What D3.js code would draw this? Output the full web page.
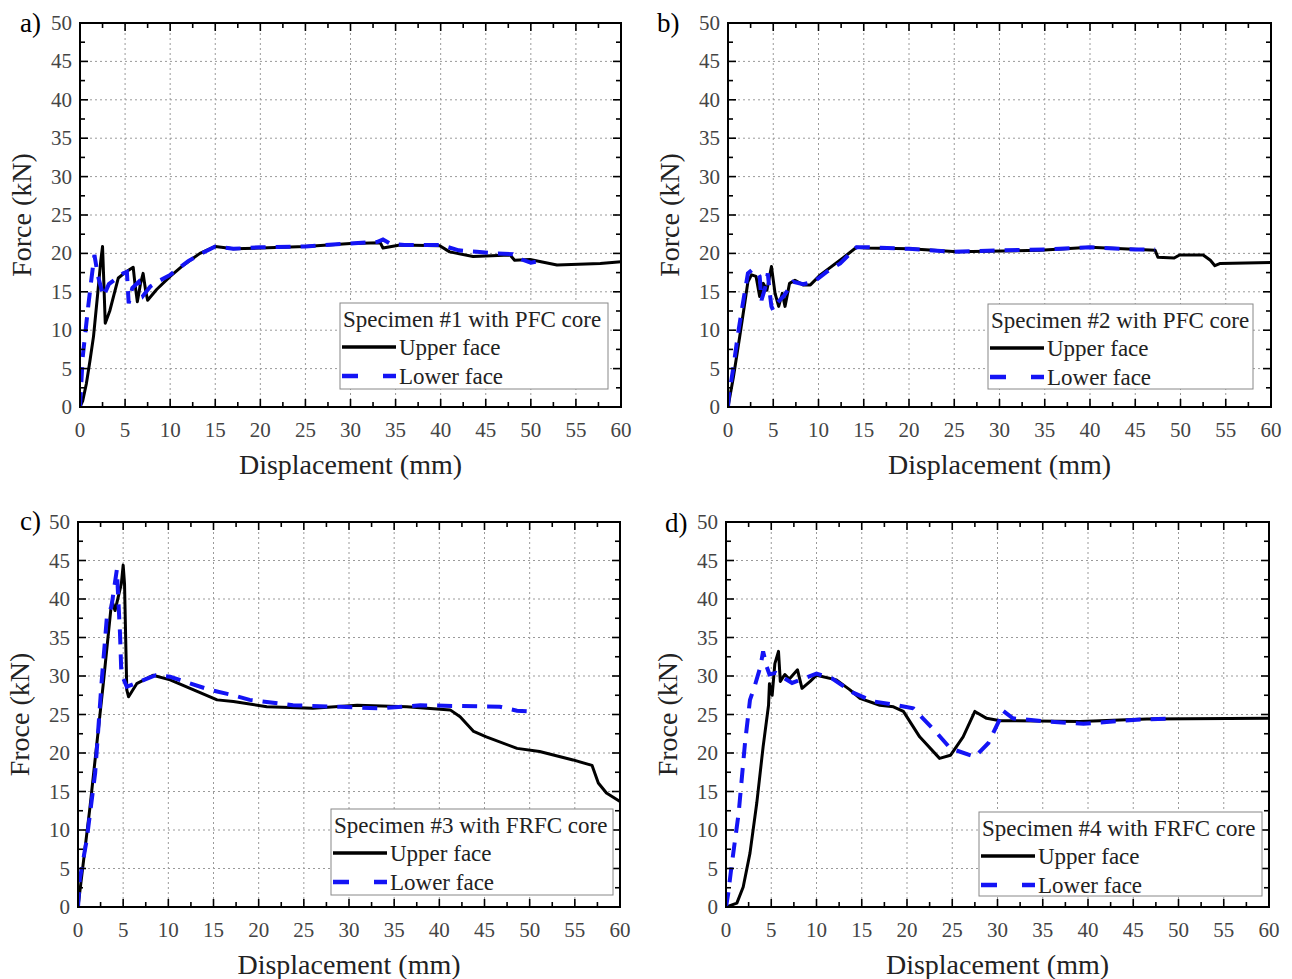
<!DOCTYPE html>
<html>
<head>
<meta charset="utf-8">
<script src="https://cdn.jsdelivr.net/npm/d3@7"></script>
<style>
body{margin:0;background:#fff}
svg{display:block}
text{font-family:"Liberation Serif","Times New Roman",serif}
</style>
</head>
<body>
<svg id="chart" width="1292" height="979"></svg>
<script>
// values: [displacement mm, force kN]
var upperA=[[0,0],[0.3,0.8],[0.7,3],[1.1,6],[1.5,9.2],[2,15.2],[2.3,19],[2.5,20.9],[2.65,16],[2.8,10.9],[3.3,12.5],[4.25,16.8],[5,17.5],[5.9,18.2],[6.1,16],[6.36,13.7],[6.7,16],[7,17.4],[7.3,15],[7.5,13.9],[8.5,15.3],[10,17],[11.5,18.5],[13.3,20],[15,20.9],[17,20.6],[20,20.7],[25,20.9],[30,21.3],[33.3,21.4],[33.6,20.7],[35.5,21.1],[39.9,21],[41,20.2],[43.6,19.6],[47.7,19.8],[48.2,19.1],[49.9,19.2],[52.9,18.5],[57.7,18.7],[60,18.9]]
var lowerA=[[0,0],[0.3,6.5],[0.9,13],[1.3,17],[1.6,19.8],[2,17],[2.6,14.4],[3.2,16],[4.1,16.8],[4.8,17.4],[5.2,17.6],[5.4,13.5],[5.8,15.5],[6.5,16.3],[7,14.5],[7.8,15.7],[8.9,16.5],[10,17.2],[12,19],[13.5,20],[15,20.9],[17,20.6],[20,20.8],[25,20.9],[30,21.3],[33,21.5],[33.6,21.8],[34.5,21.2],[36,21.1],[40,21.1],[42,20.4],[44,20.2],[46,20],[48,19.9],[49,19.2],[50,18.8],[51,19]]

var upperB=[[0,0],[0.6,3.9],[1.3,9.2],[1.9,13.9],[2.2,16.3],[2.6,17.2],[3.1,17],[3.5,14.4],[3.9,16.1],[4.3,15.2],[4.8,18.3],[5.2,14.8],[5.6,13.1],[6,14.8],[6.3,13.1],[6.8,16.1],[7.4,16.5],[8.3,15.9],[9.1,15.9],[10.2,17.2],[12.7,19.4],[14.2,20.8],[15.3,20.7],[20.1,20.6],[25.3,20.2],[34.5,20.4],[40,20.8],[47.2,20.4],[47.5,19.5],[49.3,19.4],[49.9,19.8],[52.5,19.8],[53.3,19.1],[53.8,18.4],[54.4,18.7],[60,18.8]]
var lowerB=[[0,0],[0.1,1.5],[0.6,5.2],[1.1,9.5],[1.7,13.9],[2.2,17.4],[2.7,17.9],[3.2,17.6],[3.5,17],[3.7,13.9],[4.1,15.5],[4.4,17.4],[4.6,15],[4.8,13.1],[5,12.6],[5.4,13.5],[5.7,13.9],[6.2,14.5],[7.2,16.3],[8.3,16],[9.5,16.3],[10.9,17.6],[12.4,18.7],[14.2,20.8],[15.5,20.8],[20,20.6],[25,20.2],[30,20.4],[35,20.5],[40,20.8],[45,20.5],[47.2,20.5]]

var upperC=[[0,0],[1.33,13],[2.8,29],[3.7,39.4],[3.8,39.6],[4.1,38.5],[4.8,42],[5,44.4],[5.15,42],[5.4,28.2],[5.6,27.3],[6.5,29],[8.3,30.1],[10.2,29.5],[12.8,28.2],[15.4,26.9],[17.2,26.7],[20.9,26],[26,25.8],[30.9,26.2],[36.4,26],[41.2,25.6],[42.3,24.7],[43.8,22.8],[45.2,22.1],[48.6,20.6],[51.1,20.2],[54.8,19.1],[56.9,18.4],[57.6,16.1],[58.5,14.8],[60,13.7]]
var lowerC=[[0,0],[0.2,3.6],[0.96,8.7],[1.9,17.4],[2.6,29],[3.2,37.7],[3.7,39],[4.3,43.8],[4.65,35.5],[4.8,30.3],[5.4,28.6],[6.7,29.2],[8.6,30.1],[10.2,29.9],[14.6,28.2],[17.2,27.5],[19,26.9],[23.8,26.2],[29,26],[33.4,25.8],[37.9,26.2],[42.3,26.1],[46.7,26],[48.6,25.5],[50,25.4]]

var upperD=[[0,0],[1.2,0.5],[1.9,2.6],[2.65,7],[3.4,13.5],[4.1,20.8],[4.7,26.2],[4.8,29],[5.1,27.5],[5.4,31.6],[5.8,33.2],[6,29.3],[6.5,30.2],[7,29.6],[7.9,30.8],[8.4,28.4],[9.3,29.3],[10,30.1],[12.2,29.5],[13.7,28.2],[14.8,27.1],[17,26.2],[18.5,26],[19.6,25.4],[21.4,22.1],[23.6,19.3],[24.8,19.7],[26.2,22.1],[27.5,25.4],[28.8,24.5],[30.3,24.2],[39.1,24.1],[46.5,24.4],[60,24.5]]
var lowerD=[[0,0],[0.25,1.8],[0.6,5.2],[1.4,12.2],[2.1,21.3],[2.65,26.9],[3.2,28.8],[3.8,31.2],[4.1,33.2],[4.5,31.2],[4.8,30.2],[5.5,30.4],[7.3,29.1],[10,30.3],[11.7,29.7],[14.1,27.8],[16.3,26.7],[18.9,26.2],[20.7,25.8],[23.3,22.6],[24.8,20.6],[27.5,19.5],[29,21.3],[30.3,24.5],[30.6,25.5],[31.7,24.5],[35.4,24.1],[39.5,23.8],[45,24.3],[49.5,24.5]]

var xTicks=[0,5,10,15,20,25,30,35,40,45,50,55,60]
var yTicks=[0,5,10,15,20,25,30,35,40,45,50]
var panelLabels=['a)','b)','c)','d)']
var legendTitles=['Specimen #1 with PFC core','Specimen #2 with PFC core','Specimen #3 with FRFC core','Specimen #4 with FRFC core']
var yTitles=['Force (kN)','Force (kN)','Froce (kN)','Froce (kN)']
var seriesNames=['Upper face','Lower face']
var uppers=[upperA,upperB,upperC,upperD]
var lowers=[lowerA,lowerB,lowerC,lowerD]

// layout of the four panels
var frames=[
    {x0:80,x1:621,y0:23,y1:407,lab:[20,32],leg:[340,303,268,86]},
    {x0:728,x1:1271,y0:23,y1:407,lab:[657,32],leg:[988,304,265,85]},
    {x0:78,x1:620,y0:522,y1:907,lab:[20,530],leg:[331,809,282,86]},
    {x0:726,x1:1269,y0:522,y1:907,lab:[665,532],leg:[979,812,283,84]}
]
var BLUE='#1414f5'

var svg=d3.select('#chart')

frames.forEach(function(f,i){
    var x=d3.scaleLinear().domain([0,60]).range([f.x0,f.x1]),
        y=d3.scaleLinear().domain([0,50]).range([f.y1,f.y0])
    var g=svg.append('g')
    var clipId='clip'+i
    g.append('clipPath').attr('id',clipId)
        .append('rect')
        .attr('x',f.x0).attr('y',f.y0)
        .attr('width',f.x1-f.x0).attr('height',f.y1-f.y0)

    // grid
    var grid=g.append('g')
    grid.selectAll('line.gx')
        .data(xTicks.slice(1,-1))
        .join('line')
        .attr('x1',d=>x(d)).attr('x2',d=>x(d))
        .attr('y1',f.y0).attr('y2',f.y1)
        .attr('stroke','#9a9a9a').attr('stroke-width',1)
        .attr('stroke-dasharray','2,3')
    grid.selectAll('line.gy')
        .data(yTicks.slice(1,-1))
        .join('line')
        .attr('class','gy')
        .attr('x1',f.x0).attr('x2',f.x1)
        .attr('y1',d=>y(d)).attr('y2',d=>y(d))
        .attr('stroke','#9a9a9a').attr('stroke-width',1)
        .attr('stroke-dasharray','2,3')

    // curves
    var line=d3.line().x(d=>x(d[0])).y(d=>y(d[1]))
    var curves=g.append('g').attr('clip-path','url(#'+clipId+')')
    curves.append('path')
        .attr('d',line(uppers[i]))
        .attr('fill','none').attr('stroke','#000')
        .attr('stroke-width',3).attr('stroke-linejoin','round')
    curves.append('path')
        .attr('d',line(lowers[i]))
        .attr('fill','none').attr('stroke',BLUE)
        .attr('stroke-width',4)
        .attr('stroke-dasharray','15,10')

    // axes: ticks inside on all four sides
    var ax=g.append('g')
    var minorX=d3.range(0,60.01,2.5), minorY=d3.range(0,50.01,2.5)
    ax.selectAll('line.tb')
        .data(minorX)
        .join('line')
        .attr('x1',d=>x(d)).attr('x2',d=>x(d))
        .attr('y1',f.y1).attr('y2',d=>f.y1-(d%5==0?8:5))
        .attr('stroke','#000').attr('stroke-width',1.6)
    ax.selectAll('line.tt')
        .data(minorX)
        .join('line')
        .attr('class','tt')
        .attr('x1',d=>x(d)).attr('x2',d=>x(d))
        .attr('y1',f.y0).attr('y2',d=>f.y0+(d%5==0?8:5))
        .attr('stroke','#000').attr('stroke-width',1.6)
    ax.selectAll('line.tl')
        .data(minorY)
        .join('line')
        .attr('class','tl')
        .attr('y1',d=>y(d)).attr('y2',d=>y(d))
        .attr('x1',f.x0).attr('x2',d=>f.x0+(d%5==0?8:5))
        .attr('stroke','#000').attr('stroke-width',1.6)
    ax.selectAll('line.tr')
        .data(minorY)
        .join('line')
        .attr('class','tr')
        .attr('y1',d=>y(d)).attr('y2',d=>y(d))
        .attr('x1',f.x1).attr('x2',d=>f.x1-(d%5==0?8:5))
        .attr('stroke','#000').attr('stroke-width',1.6)
    ax.append('rect')
        .attr('x',f.x0).attr('y',f.y0)
        .attr('width',f.x1-f.x0).attr('height',f.y1-f.y0)
        .attr('fill','none').attr('stroke','#000').attr('stroke-width',2)

    // tick labels
    ax.selectAll('text.xl')
        .data(xTicks)
        .join('text')
        .attr('class','xl')
        .attr('x',d=>x(d)).attr('y',f.y1+30)
        .attr('text-anchor','middle')
        .attr('font-size',21).attr('fill','#444')
        .text(d=>d)
    ax.selectAll('text.yl')
        .data(yTicks)
        .join('text')
        .attr('class','yl')
        .attr('x',f.x0-8).attr('y',d=>y(d)+7)
        .attr('text-anchor','end')
        .attr('font-size',21).attr('fill','#444')
        .text(d=>d)

    // titles
    g.append('text')
        .attr('x',(f.x0+f.x1)/2).attr('y',f.y1+67)
        .attr('text-anchor','middle')
        .attr('font-size',28).attr('fill','#222')
        .text('Displacement (mm)')
    g.append('text')
        .attr('transform','translate('+(f.x0-49)+','+((f.y0+f.y1)/2)+') rotate(-90)')
        .attr('text-anchor','middle')
        .attr('font-size',28).attr('fill','#222')
        .text(yTitles[i])
    g.append('text')
        .attr('x',f.lab[0]).attr('y',f.lab[1])
        .attr('font-size',27).attr('fill','#000')
        .text(panelLabels[i])

    // legend
    var lx=f.leg[0], ly=f.leg[1]
    var leg=g.append('g')
    leg.append('rect')
        .attr('x',lx).attr('y',ly)
        .attr('width',f.leg[2]).attr('height',f.leg[3])
        .attr('fill','#fff').attr('stroke','#888').attr('stroke-width',1)
    leg.append('text')
        .attr('x',lx+3).attr('y',ly+24)
        .attr('font-size',23).attr('fill','#222')
        .text(legendTitles[i])
    leg.append('line')
        .attr('x1',lx+2).attr('x2',lx+56)
        .attr('y1',ly+44).attr('y2',ly+44)
        .attr('stroke','#000').attr('stroke-width',3.5)
    leg.append('line')
        .attr('x1',lx+2).attr('x2',lx+56)
        .attr('y1',ly+73).attr('y2',ly+73)
        .attr('stroke',BLUE).attr('stroke-width',4.5)
        .attr('stroke-dasharray','16,25')
    leg.selectAll('text.ln')
        .data(seriesNames)
        .join('text')
        .attr('class','ln')
        .attr('x',lx+59).attr('y',(d,k)=>ly+52+k*29)
        .attr('font-size',23).attr('fill','#222')
        .text(d=>d)
})
</script>
</body>
</html>
